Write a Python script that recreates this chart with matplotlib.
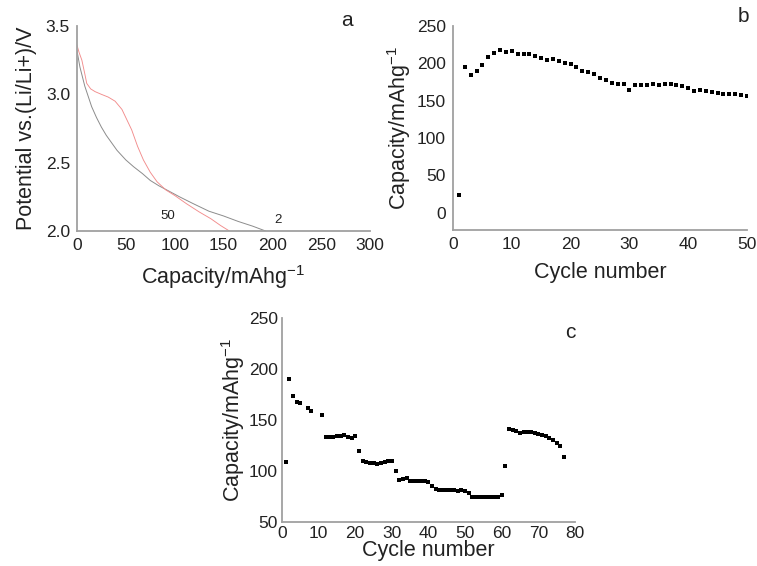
import matplotlib
matplotlib.use("Agg")
import matplotlib.pyplot as plt

plt.rcParams['font.family'] = ['Liberation Sans', 'DejaVu Sans']
plt.rcParams['mathtext.default'] = 'regular'

# ---- Panel a: discharge curves ----
red_cap = [0, 2, 5, 8, 10, 14, 18.5, 25, 32, 39, 46, 50, 56, 62, 68, 75, 82, 91, 100, 112, 125, 137, 147, 156]
red_v = [3.36, 3.31, 3.25, 3.15, 3.08, 3.04, 3.02, 3.00, 2.98, 2.95, 2.89, 2.83, 2.74, 2.62, 2.52, 2.43, 2.36, 2.30, 2.26, 2.20, 2.14, 2.09, 2.04, 2.00]
gray_cap = [0, 3, 8, 15, 20, 25, 30, 35, 41, 50, 58, 67, 75, 84, 92, 105, 119, 135, 150, 165, 180, 193]
gray_v = [3.32, 3.20, 3.06, 2.91, 2.83, 2.76, 2.70, 2.65, 2.59, 2.52, 2.47, 2.42, 2.37, 2.33, 2.30, 2.25, 2.20, 2.145, 2.11, 2.07, 2.035, 2.00]

# ---- Panel b: cycling ----
b_cycles = list(range(1, 51))
b_cap = [24.5, 195.5, 184, 190, 198, 209, 214, 218, 215, 216.5,
         213, 213, 212.5, 210, 207, 204, 206, 203, 201, 199,
         195, 190, 188, 186, 181, 178, 174, 172, 173, 164,
         171, 170.5, 170.5, 172, 170.5, 173, 172, 170.5, 170, 167,
         163, 164, 163, 162, 161, 159, 159, 158.5, 157.5, 156]

# ---- Panel c: rate capability ----
c_cycles = [1, 2, 3, 4, 5, 7, 8, 11] + list(range(12, 78))
c_cap = [109, 190, 174, 168, 167, 162, 159, 155,
         133, 133, 133.5, 134, 134, 135, 133, 132.5, 134,
         120,
         110, 108.5, 108, 107.5, 107, 107.5, 108.5, 109.5, 109.5,
         100, 91, 92.5, 93, 90.5, 90, 90, 90, 90, 89.5,
         85, 82, 81.5, 81, 81, 81, 81, 80.5, 81, 80.5,
         78, 75, 75, 75, 75, 74.5, 74.5, 74.5, 75, 76,
         105, 141, 140, 139, 137.5, 138, 138.5, 138, 137, 136, 135, 134, 132.5, 130, 127.5, 125, 114]

fig = plt.figure(figsize=(7.57, 5.66), dpi=100)
spine_c = '#a0a0a0'
txt_c = '#222222'
TICK = 12.5
LAB = 15.5

def style(ax):
    for s in ['top', 'right']:
        ax.spines[s].set_visible(False)
    for s in ['left', 'bottom']:
        ax.spines[s].set_color(spine_c)
        ax.spines[s].set_linewidth(1.3)
    ax.tick_params(length=0, labelsize=TICK, colors=txt_c, pad=5)

# Panel a
axa = fig.add_axes([0.1017, 0.5919, 0.3871, 0.3621])
axa.plot(gray_cap, gray_v, color='#8c8c8c', lw=0.7)
axa.plot(red_cap, red_v, color='#f28c8c', lw=0.65)
axa.set_xlim(0, 300)
axa.set_ylim(2.0, 3.5)
axa.set_xticks(range(0, 301, 50))
axa.set_yticks([2.0, 2.5, 3.0, 3.5])
axa.set_yticklabels(['2.0', '2.5', '3.0', '3.5'])
style(axa)
axa.set_xlabel('Capacity/mAhg$^{-1}$', fontsize=LAB, color=txt_c, labelpad=7)
axa.set_ylabel('Potential vs.(Li/Li+)/V', fontsize=LAB, color=txt_c, labelpad=6)
axa.text(93, 2.11, '50', fontsize=9.5, color=txt_c, ha='center', va='center')
axa.text(206, 2.08, '2', fontsize=9.5, color=txt_c, ha='center', va='center')
fig.text(347 / 757, 1 - 20 / 566, 'a', fontsize=15, color=txt_c, ha='center', va='center')

# Panel b
axb = fig.add_axes([0.5984, 0.5936, 0.3884, 0.3604])
axb.plot(b_cycles, b_cap, 's', color='black', ms=3.4, mew=0)
axb.set_xlim(0, 50)
axb.set_ylim(-23, 250)
axb.set_xticks(range(0, 51, 10))
axb.set_yticks(range(0, 251, 50))
style(axb)
axb.set_xlabel('Cycle number', fontsize=LAB, color=txt_c, labelpad=7)
axb.set_ylabel('Capacity/mAhg$^{-1}$', fontsize=LAB, color=txt_c, labelpad=3)
fig.text(743 / 757, 1 - 16 / 566, 'b', fontsize=15, color=txt_c, ha='center', va='center')

# Panel c
axc = fig.add_axes([0.3725, 0.0777, 0.3871, 0.3605])
axc.plot(c_cycles, c_cap, 's', color='black', ms=3.4, mew=0)
axc.set_xlim(0, 80)
axc.set_ylim(50, 250)
axc.set_xticks(range(0, 81, 10))
axc.set_yticks(range(50, 251, 50))
style(axc)
axc.tick_params(axis='x', pad=3)
axc.tick_params(axis='y', pad=3)
axc.set_xlabel('Cycle number', fontsize=LAB, color=txt_c, labelpad=-1)
axc.set_ylabel('Capacity/mAhg$^{-1}$', fontsize=LAB, color=txt_c, labelpad=1)
fig.text(570 / 757, 1 - 333 / 566, 'c', fontsize=15, color=txt_c, ha='center', va='center')

fig.savefig('out.png', dpi=100)
